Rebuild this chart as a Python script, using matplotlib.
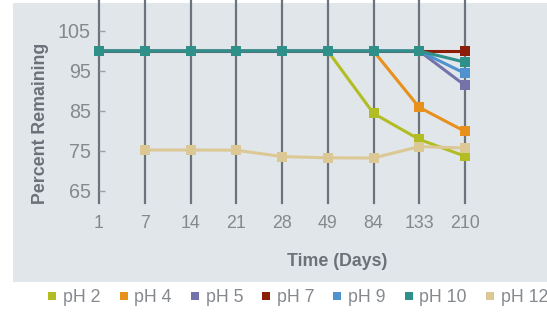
import numpy as np
import matplotlib
matplotlib.use("Agg")
import matplotlib.pyplot as plt
from matplotlib.lines import Line2D

plt.rcParams['font.family'] = ['Liberation Sans', 'DejaVu Sans']

days = ["1", "7", "14", "21", "28", "49", "84", "133", "210"]
ph2 = [100, 100, 100, 100, 100, 100, 84.4, 77.9, 73.7]
ph4 = [100, 100, 100, 100, 100, 100, 100, 85.9, 79.9]
ph5 = [100, 100, 100, 100, 100, 100, 100, 100, 91.4]
ph7 = [100, 100, 100, 100, 100, 100, 100, 100, 100]
ph9 = [100, 100, 100, 100, 100, 100, 100, 100, 94.4]
ph10 = [100, 100, 100, 100, 100, 100, 100, 100, 97.2]
ph12 = [np.nan, 75.25, 75.25, 75.2, 73.6, 73.3, 73.25, 76.1, 75.75]
yticks = [65, 75, 85, 95, 105]

series = [
    ("pH 2", ph2, "#b1bd22"),
    ("pH 4", ph4, "#e8901c"),
    ("pH 5", ph5, "#7473a9"),
    ("pH 7", ph7, "#8a1e08"),
    ("pH 9", ph9, "#4f92d0"),
    ("pH 10", ph10, "#2f8f89"),
    ("pH 12", ph12, "#dcc894"),
]

W, H = 547, 313
fig = plt.figure(figsize=(W / 100, H / 100), dpi=100)
fig.patch.set_facecolor("white")

# background panel
bg = fig.add_axes([13 / W, (H - 282) / H, 1 - 13 / W, (282 - 3) / H], zorder=-5)
bg.set_facecolor("#e1e6ea")
bg.set_xticks([])
bg.set_yticks([])
for s in bg.spines.values():
    s.set_visible(False)

ax = fig.add_axes([99 / W, (H - 203) / H, (465 - 99) / W, 203 / H], zorder=1)
ax.set_facecolor("none")
x = np.arange(len(days))
for i in x:
    ax.axvline(i, color="#6b737c", lw=1.6, zorder=1, clip_on=False)

for name, vals, col in series:
    ax.plot(x, vals, color=col, lw=2.2, marker="s", markersize=6.8,
            markeredgewidth=0, zorder=3, clip_on=False)

ax.set_xlim(0, 8)
ax.set_ylim(62, 112.75)
ax.set_xticks(x)
ax.set_xticklabels(days)
ax.set_yticks(yticks)
for s in ax.spines.values():
    s.set_visible(False)
ax.tick_params(axis="x", length=0, pad=9, labelsize=12.8, labelcolor="#85898e")
ax.tick_params(axis="y", direction="in", length=4, width=1, color="#9aa0a6",
               pad=6, labelsize=14.2, labelcolor="#85898e")

fig.text(41 / W, 1 - 123 / H, "Percent Remaining", rotation=90, ha="center",
         va="center", fontsize=12.8, fontweight="bold", color="#6b7178")
fig.text(337 / W, 1 - 262 / H, "Time (Days)", ha="center", va="center",
         fontsize=12.8, fontweight="bold", color="#6b7178")

handles = [Line2D([], [], ls="none", marker="s", markersize=6, color=c,
                  markeredgewidth=0) for _, _, c in series]
labels = [n for n, _, _ in series]
leg = fig.legend(handles, labels, loc="center", bbox_to_anchor=(298 / W, 1 - 298 / H),
                 ncol=7, frameon=False, fontsize=12.8, handlelength=0.5,
                 handletextpad=0.35, columnspacing=1.05, borderpad=0, borderaxespad=0)
for t in leg.get_texts():
    t.set_color("#85898e")

fig.savefig("out.png", dpi=100)
